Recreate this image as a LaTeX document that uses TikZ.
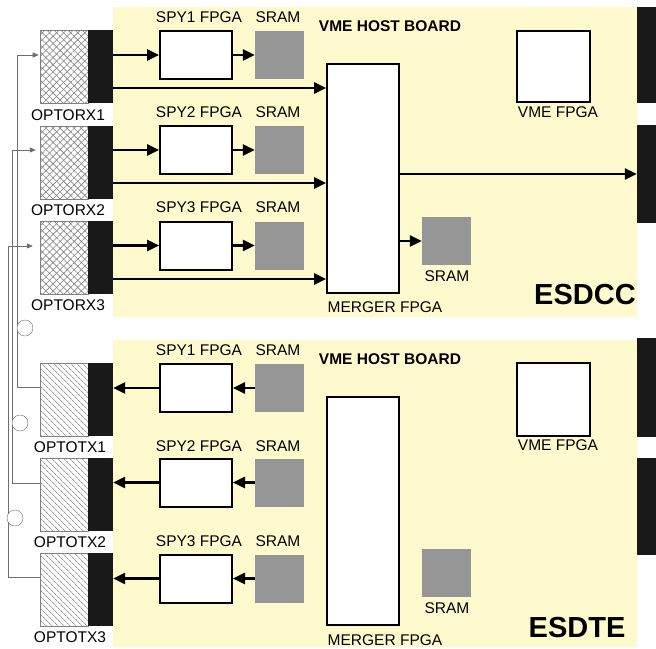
\documentclass[tikz,border=0pt]{standalone}
\usepackage{fontspec}
\setmainfont{Liberation Sans}
\usetikzlibrary{arrows.meta,patterns.meta}
\definecolor{boardyellow}{RGB}{255,250,205}
\definecolor{sramgray}{RGB}{150,150,150}
\definecolor{wiregray}{RGB}{110,110,110}
\begin{document}
\begin{tikzpicture}[x=1pt,y=-1pt,
  every node/.style={font=\fontsize{15.5}{18}\selectfont},
  board/.style={fill=boardyellow, minimum width=524pt, inner sep=0pt},
  plug/.style={fill=black!90, minimum width=19pt, inner sep=0pt},
  rxhatch/.style={draw=gray, pattern={Lines[angle=45,distance=5pt,line width=0.6pt]}, pattern color=gray,
    preaction={pattern={Lines[angle=-45,distance=5pt,line width=0.6pt]}, pattern color=gray}, minimum width=48pt, minimum height=73pt, inner sep=0pt},
  txhatch/.style={draw=gray, pattern={Lines[angle=-45,distance=4pt,line width=0.6pt]}, pattern color=black!60, minimum width=48pt, minimum height=73pt, inner sep=0pt},
  optoblk/.style={fill=black!90, minimum width=25pt, minimum height=73pt, inner sep=0pt},
  fpga/.style={draw, line width=2pt, fill=white, inner sep=0pt},
  spy/.style={fpga, minimum width=72pt, minimum height=48pt},
  sram/.style={fill=sramgray, minimum width=49pt, minimum height=48pt, inner sep=0pt},
  bus/.style={line width=2.6pt, -{Triangle[length=12pt,width=11pt]}},
  fibre/.style={draw=wiregray, line width=0.8pt, -{Triangle[length=6pt,width=5pt]}},
  ring/.style={circle, draw=wiregray, fill=white, minimum size=16pt, inner sep=0pt},
  title/.style={font=\bfseries\fontsize{15.5}{18}\selectfont},
  tag/.style={font=\bfseries\fontsize{29}{30}\selectfont}]
\useasboundingbox (0,0) rectangle (656,648);

% ESDCC board
\node[board, minimum height=310pt] (dcc) at (375,162) {};
\node[plug, minimum height=96pt] (dccp1) at (646.5,55) {};
\node[plug, minimum height=98pt] (dccp2) at (646.5,174) {};
\node[title] (dcct) at (390,26) {VME HOST BOARD};
\node[tag] (dcctag) at (585,295) {ESDCC};

\node[rxhatch] (rx1) at (64,66.5) {};
\node[optoblk] (rx1b) at (100.5,66.5) {};
\node (rx1l) at (68,115) {OPTORX1};
\node[rxhatch] (rx2) at (64,162.5) {};
\node[optoblk] (rx2b) at (100.5,162.5) {};
\node (rx2l) at (68,210) {OPTORX2};
\node[rxhatch] (rx3) at (64,257.5) {};
\node[optoblk] (rx3b) at (100.5,257.5) {};
\node (rx3l) at (68,305) {OPTORX3};

\node[spy] (spyr1) at (196,55) {};
\node (spyr1l) at (199,17) {SPY1 FPGA};
\node[sram] (sramr1) at (279.5,55) {};
\node (sramr1l) at (278,17) {SRAM};
\node[spy] (spyr2) at (196,150) {};
\node (spyr2l) at (199,112) {SPY2 FPGA};
\node[sram] (sramr2) at (279.5,150) {};
\node (sramr2l) at (278,112) {SRAM};
\node[spy] (spyr3) at (196,245.5) {};
\node (spyr3l) at (199,207) {SPY3 FPGA};
\node[sram] (sramr3) at (279.5,245.5) {};
\node (sramr3l) at (278,207) {SRAM};

\node[fpga, minimum width=72pt, minimum height=229pt] (merr) at (363,178.5) {};
\node (merrl) at (385,307) {MERGER FPGA};
\node[sram] (sramrm) at (446.5,241) {};
\node (sramrml) at (447,276) {SRAM};
\node[fpga, minimum width=73pt, minimum height=71pt] (vmer) at (553.5,66.5) {};
\node (vmerl) at (558,112) {VME FPGA};

\draw[bus] (rx1b.east |- spyr1.west) -- (spyr1.west);
\draw[bus] (spyr1.east) -- (sramr1.west);
\draw[bus] (rx1b.east |- 0,88) -- (merr.west |- 0,88);
\draw[bus] (rx2b.east |- spyr2.west) -- (spyr2.west);
\draw[bus] (spyr2.east) -- (sramr2.west);
\draw[bus] (rx2b.east |- 0,183) -- (merr.west |- 0,183);
\draw[bus] (rx3b.east |- spyr3.west) -- (spyr3.west);
\draw[bus] (spyr3.east) -- (sramr3.west);
\draw[bus] (rx3b.east |- 0,279) -- (merr.west |- 0,279);
\draw[bus] (merr.east |- dccp2.west) -- (dccp2.west);
\draw[bus] (merr.east |- sramrm.west) -- (sramrm.west);

% ESDTE board
\node[board, minimum height=307pt] (dte) at (375,493.5) {};
\node[plug, minimum height=99pt] (dtep1) at (646.5,387.5) {};
\node[plug, minimum height=97pt] (dtep2) at (646.5,506.5) {};
\node[title] (dtet) at (390,359) {VME HOST BOARD};
\node[tag] (dtetag) at (577,628) {ESDTE};

\node[txhatch] (tx1) at (64,399.5) {};
\node[optoblk] (tx1b) at (100.5,399.5) {};
\node (tx1l) at (70,447) {OPTOTX1};
\node[txhatch] (tx2) at (64,494.5) {};
\node[optoblk] (tx2b) at (100.5,494.5) {};
\node (tx2l) at (70,542) {OPTOTX2};
\node[txhatch] (tx3) at (64,589.5) {};
\node[optoblk] (tx3b) at (100.5,589.5) {};
\node (tx3l) at (70,637) {OPTOTX3};

\node[spy] (spyt1) at (196,388) {};
\node (spyt1l) at (199,350) {SPY1 FPGA};
\node[sram] (sramt1) at (279.5,388) {};
\node (sramt1l) at (278,350) {SRAM};
\node[spy] (spyt2) at (196,482.5) {};
\node (spyt2l) at (199,446) {SPY2 FPGA};
\node[sram] (sramt2) at (279.5,482.5) {};
\node (sramt2l) at (278,446) {SRAM};
\node[spy] (spyt3) at (196,578.5) {};
\node (spyt3l) at (199,541) {SPY3 FPGA};
\node[sram] (sramt3) at (279.5,578.5) {};
\node (sramt3l) at (278,541) {SRAM};

\node[fpga, minimum width=72pt, minimum height=228pt] (mert) at (363,511) {};
\node (mertl) at (385,640) {MERGER FPGA};
\node[sram] (sramtm) at (446.5,573) {};
\node (sramtml) at (447,608) {SRAM};
\node[fpga, minimum width=73pt, minimum height=73pt] (vmet) at (553.5,399.5) {};
\node (vmetl) at (558,445) {VME FPGA};

\draw[bus] (sramt1.west) -- (spyt1.east);
\draw[bus] (spyt1.west) -- (tx1b.east |- spyt1.west);
\draw[bus] (sramt2.west) -- (spyt2.east);
\draw[bus] (spyt2.west) -- (tx2b.east |- spyt2.west);
\draw[bus] (sramt3.west) -- (spyt3.east);
\draw[bus] (spyt3.west) -- (tx3b.east |- spyt3.west);

% fibre loops TX -> RX
\draw[fibre, shorten >=1pt] (tx1.west |- 0,387) -| (17,55) -- (rx1.west |- 0,55);
\draw[fibre, shorten >=4pt] (tx2.west |- 0,483) -| (12,150) -- (rx2.west |- 0,150);
\draw[fibre, shorten >=7pt] (tx3.west |- 0,577) -| (8,246) -- (rx3.west |- 0,246);
\node[ring] (ring1) at (25,328) {};
\node[ring] (ring2) at (20,423) {};
\node[ring] (ring3) at (15,518) {};
\end{tikzpicture}
\end{document}
